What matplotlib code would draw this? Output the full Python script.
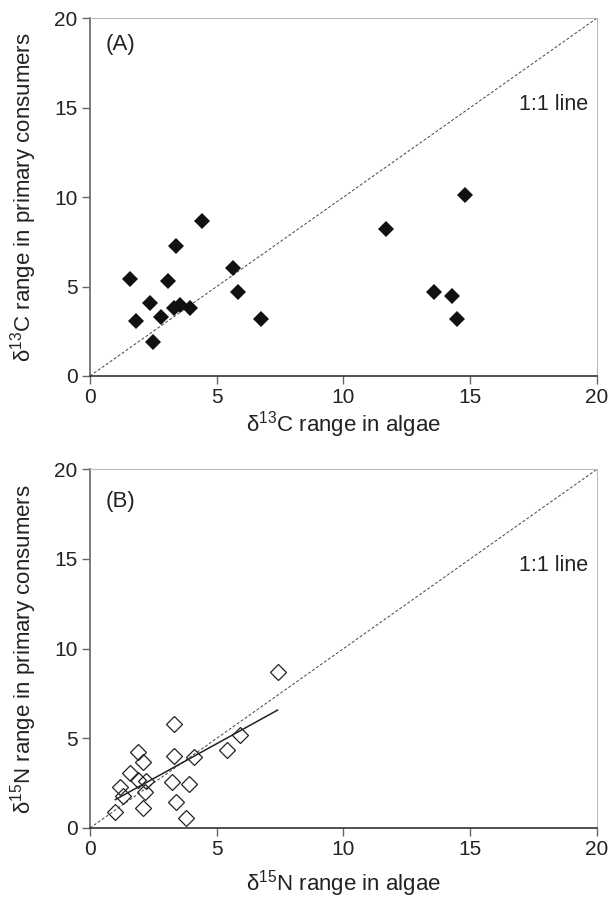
import numpy as np
import matplotlib.pyplot as plt

plt.rcParams['font.family'] = ['Liberation Sans', 'DejaVu Sans']
plt.rcParams['mathtext.fontset'] = 'custom'
plt.rcParams['mathtext.rm'] = 'Liberation Sans'
plt.rcParams['mathtext.default'] = 'regular'

# Panel A: d13C ranges
c_algae = [1.57, 1.80, 2.37, 2.48, 2.80, 3.09, 3.41, 3.33, 3.57, 3.93, 4.43,
           5.64, 5.83, 6.76, 11.68, 13.59, 14.28, 14.47, 14.81]
c_consumers = [5.42, 3.07, 4.10, 1.88, 3.30, 5.33, 7.27, 3.82, 3.95, 3.82, 8.65,
               6.03, 4.69, 3.20, 8.20, 4.68, 4.48, 3.20, 10.10]

# Panel B: d15N ranges
n_algae = [3.33, 1.90, 2.10, 3.33, 4.10, 1.58, 1.90, 2.20, 3.22, 3.89, 1.20,
           1.29, 2.17, 3.39, 2.10, 1.00, 3.79, 5.41, 5.90, 7.40]
n_consumers = [5.78, 4.26, 3.70, 4.02, 3.93, 3.06, 2.68, 2.60, 2.54, 2.44, 2.26,
               1.76, 1.98, 1.43, 1.11, 0.87, 0.56, 4.32, 5.20, 8.71]

# regression line shown in panel B
fit_slope = 0.78
fit_intercept = 0.80

ticks = [0, 5, 10, 15, 20]

fig = plt.figure(figsize=(6.13, 8.99), dpi=100)
axA = fig.add_axes([0.1468, 0.5818, 0.827, 0.398])
axB = fig.add_axes([0.1468, 0.079, 0.827, 0.399])


def style(ax, line_y):
    ax.set_xlim(0, 20)
    ax.set_ylim(0, 20)
    ax.set_xticks(ticks)
    ax.set_yticks(ticks)
    ax.spines['left'].set_color('#666666')
    ax.spines['bottom'].set_color('#333333')
    for s in ['left', 'bottom']:
        ax.spines[s].set_linewidth(1.2)
    for s in ['top', 'right']:
        ax.spines[s].set_color('#bbbbbb')
        ax.spines[s].set_linewidth(0.8)
    ax.tick_params(direction='out', length=6, width=1, color='#666666',
                   labelsize=15, labelcolor='#222222', pad=3,
                   top=False, right=False)
    ax.plot([0, 20], [0, 20], linestyle=(0, (3, 2)), color='#444444', lw=0.7)
    ax.text(19.65, line_y, '1:1 line', ha='right', va='center',
            fontsize=15.5, color='#222222')


style(axA, 15.2)
axA.plot(c_algae, c_consumers, 'D', color='#111111', markersize=8.5,
         markeredgewidth=0)
axA.text(0.6, 18.5, '(A)', fontsize=16, va='center', color='#222222')
axA.set_xlabel('δ$^{13}$C range in algae', fontsize=16, color='#222222',
               labelpad=1)
axA.set_ylabel('δ$^{13}$C range in primary consumers', fontsize=16,
               color='#222222', labelpad=11)

style(axB, 14.65)
fx = np.array([min(n_algae), max(n_algae)])
axB.plot(fx, fit_intercept + fit_slope * fx, color='#222222', lw=1.1)
axB.plot(n_algae, n_consumers, 'D', markerfacecolor='none',
         markeredgecolor='#222222', markersize=8.5, markeredgewidth=0.9)
axB.text(0.6, 18.2, '(B)', fontsize=16, va='center', color='#222222')
axB.set_xlabel('δ$^{15}$N range in algae', fontsize=16, color='#222222',
               labelpad=6)
axB.set_ylabel('δ$^{15}$N range in primary consumers', fontsize=16,
               color='#222222', labelpad=11)

fig.savefig('out.png', dpi=100, facecolor='white')
